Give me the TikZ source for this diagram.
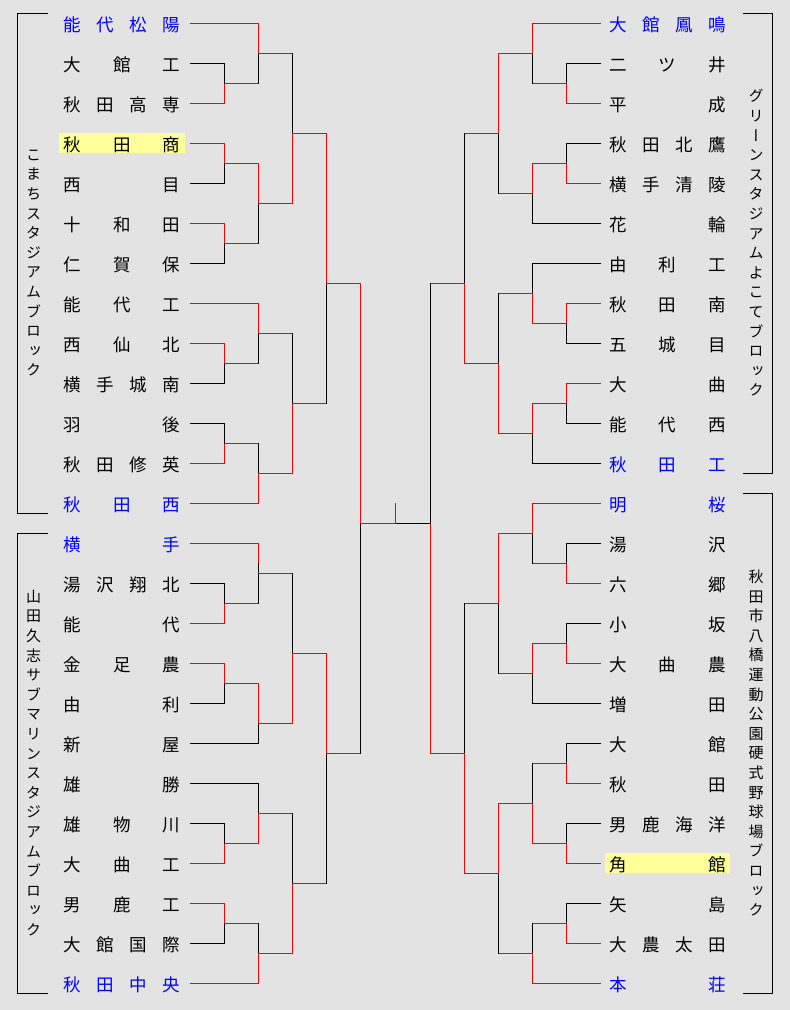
\documentclass[tikz,border=0pt]{standalone}
\usepackage{fontspec}
\usepackage{graphicx}
\newfontfamily\jp{Noto Sans CJK JP}
\newfontfamily\jpv[RawFeature=+vert]{Noto Sans CJK JP}
\definecolor{bg}{HTML}{E3E3E3}
\definecolor{hl}{HTML}{FFFF99}
\definecolor{win}{HTML}{FF0000}
\definecolor{nm}{HTML}{0000FF}
\tikzset{
  W/.style={draw=win, line width=1pt},
  L/.style={draw=black, line width=1pt},
  team/.style={anchor=base west, inner sep=0pt, font=\jp\fontsize{17.5}{20}\selectfont, text=black},
  seed/.style={team, text=nm},
  vlab/.style={align=center, inner sep=0pt, font=\jpv\fontsize{15}{19.6}\selectfont},
  blk/.style={draw=black, line width=1pt},
}
\newcommand\J[1]{\makebox[116.5pt][s]{#1}}
\newcommand\TL[3]{\node[#2] (tL#1) at (63.75,{23+40*#1+8}) {\J{#3}};
  \coordinate (pL#1) at (190,{23+40*#1});}
\newcommand\TR[3]{\node[#2] (tR#1) at (609.25,{23+40*#1+8}) {\J{#3}};
  \coordinate (pR#1) at (600,{23+40*#1});}
\newcommand\edg[4]{\draw[#3] (#1) -- (#1 -| #2); \draw[#4] (#1 -| #2) -- (#2);}
\begin{document}
\begin{tikzpicture}[x=1pt,y=-1pt,line cap=rect]
\useasboundingbox (0,0) rectangle (790,1010);
\fill[bg] (0,0) rectangle (790,1010);
\fill[hl] (59,133) rectangle (185,153);
\fill[hl] (605,853) rectangle (730,873);
\begin{scope}[shift={(0.5,0.5)}]
% block brackets
\draw[blk] (47,13) -- (17,13) -- (17,513) -- (47,513);
\draw[blk] (47,533) -- (17,533) -- (17,993) -- (47,993);
\draw[blk] (743,13) -- (772,13) -- (772,473) -- (743,473);
\draw[blk] (743,493) -- (772,493) -- (772,993) -- (743,993);
\end{scope}
\node[vlab] (vA) at (33.5,263) {こ\\ま\\ち\\ス\\タ\\ジ\\ア\\ム\\ブ\\ロ\\ッ\\ク};
\node[vlab] (vB) at (33.5,763) {山\\田\\久\\志\\サ\\ブ\\マ\\リ\\ン\\ス\\タ\\ジ\\ア\\ム\\ブ\\ロ\\ッ\\ク};
\node[vlab] (vC) at (756,243) {グ\\リ\\ー\\ン\\ス\\タ\\ジ\\ア\\ム\\よ\\こ\\て\\ブ\\ロ\\ッ\\ク};
\node[vlab] (vD) at (756,743) {秋\\田\\市\\八\\橋\\運\\動\\公\\園\\硬\\式\\野\\球\\場\\ブ\\ロ\\ッ\\ク};
% left teams
\TL{0}{seed}{能 代 松 陽}
\TL{1}{team}{大 館 工}
\TL{2}{team}{秋 田 高 専}
\TL{3}{team}{秋 田 商}
\TL{4}{team}{西 目}
\TL{5}{team}{十 和 田}
\TL{6}{team}{仁 賀 保}
\TL{7}{team}{能 代 工}
\TL{8}{team}{西 仙 北}
\TL{9}{team}{横 手 城 南}
\TL{10}{team}{羽 後}
\TL{11}{team}{秋 田 修 英}
\TL{12}{seed}{秋 田 西}
\TL{13}{seed}{横 手}
\TL{14}{team}{湯 沢 翔 北}
\TL{15}{team}{能 代}
\TL{16}{team}{金 足 農}
\TL{17}{team}{由 利}
\TL{18}{team}{新 屋}
\TL{19}{team}{雄 勝}
\TL{20}{team}{雄 物 川}
\TL{21}{team}{大 曲 工}
\TL{22}{team}{男 鹿 工}
\TL{23}{team}{大 館 国 際}
\TL{24}{seed}{秋 田 中 央}
% right teams
\TR{0}{seed}{大 館 鳳 鳴}
\TR{1}{team}{二 ツ 井}
\TR{2}{team}{平 成}
\TR{3}{team}{秋 田 北 鷹}
\TR{4}{team}{横 手 清 陵}
\TR{5}{team}{花 輪}
\TR{6}{team}{由 利 工}
\TR{7}{team}{秋 田 南}
\TR{8}{team}{五 城 目}
\TR{9}{team}{大 曲}
\TR{10}{team}{能 代 西}
\TR{11}{seed}{秋 田 工}
\TR{12}{seed}{明 桜}
\TR{13}{team}{湯 沢}
\TR{14}{team}{六 郷}
\TR{15}{team}{小 坂}
\TR{16}{team}{大 曲 農}
\TR{17}{team}{増 田}
\TR{18}{team}{大 館}
\TR{19}{team}{秋 田}
\TR{20}{team}{男 鹿 海 洋}
\TR{21}{team}{角 館}
\TR{22}{team}{矢 島}
\TR{23}{team}{大 農 太 田}
\TR{24}{seed}{本 荘}
\begin{scope}[shift={(0.5,0.5)}]
% match points
\coordinate (a1) at (224,83);  \coordinate (a2) at (258,53);
\coordinate (a3) at (224,163); \coordinate (a4) at (224,243);
\coordinate (a5) at (258,203); \coordinate (a6) at (292,133);
\coordinate (a7) at (224,363); \coordinate (a8) at (258,333);
\coordinate (a9) at (224,443); \coordinate (a10) at (258,473);
\coordinate (a11) at (292,403); \coordinate (a12) at (326,283);
\coordinate (b1) at (224,603); \coordinate (b2) at (258,573);
\coordinate (b2q) at (258,563);
\coordinate (b3) at (224,683); \coordinate (b4) at (258,723);
\coordinate (b5) at (292,653); \coordinate (b6) at (224,843);
\coordinate (b7) at (258,813); \coordinate (b8) at (224,923);
\coordinate (b9) at (258,953); \coordinate (b10) at (292,883);
\coordinate (b11) at (326,753); \coordinate (LF) at (360,523);
\coordinate (c1) at (566,83);  \coordinate (c2) at (532,53);
\coordinate (c3) at (566,163); \coordinate (c4) at (532,193);
\coordinate (c5) at (498,133); \coordinate (c6) at (566,323);
\coordinate (c7) at (532,293); \coordinate (c8) at (566,403);
\coordinate (c9) at (532,433); \coordinate (c10) at (498,363);
\coordinate (c11) at (464,283);
\coordinate (d1) at (566,563); \coordinate (d2) at (532,533);
\coordinate (d3) at (566,643); \coordinate (d4) at (532,673);
\coordinate (d5) at (498,603); \coordinate (d6) at (566,763);
\coordinate (d7) at (566,843); \coordinate (d8) at (532,803);
\coordinate (d9) at (566,923); \coordinate (d10) at (532,953);
\coordinate (d11) at (498,873); \coordinate (d12) at (464,753);
\coordinate (RF) at (430,523);
\coordinate (F) at (395,523); \coordinate (Ft) at (395,503);
\foreach \i in {0,...,24}{
  \coordinate (qL\i) at (190,{23+40*\i});
  \coordinate (qR\i) at (600,{23+40*\i});}
% left top
\edg{qL1}{a1}{L}{L} \edg{qL2}{a1}{W}{W}
\edg{qL0}{a2}{W}{W} \edg{a1}{a2}{W}{L}
\edg{qL3}{a3}{W}{W} \edg{qL4}{a3}{L}{L}
\edg{qL5}{a4}{W}{W} \edg{qL6}{a4}{L}{L}
\edg{a3}{a5}{W}{W} \edg{a4}{a5}{W}{L}
\edg{a2}{a6}{W}{L} \edg{a5}{a6}{W}{W}
\edg{qL8}{a7}{W}{W} \edg{qL9}{a7}{L}{L}
\edg{qL7}{a8}{W}{W} \edg{a7}{a8}{W}{L}
\edg{qL10}{a9}{L}{L} \edg{qL11}{a9}{W}{W}
\edg{a9}{a10}{W}{L} \edg{qL12}{a10}{W}{W}
\edg{a8}{a11}{W}{L} \edg{a10}{a11}{W}{W}
\edg{a6}{a12}{W}{W} \edg{a11}{a12}{W}{L}
% left bottom
\edg{qL14}{b1}{L}{L} \edg{qL15}{b1}{W}{W}
\draw[W] (qL13) -| (b2q); \draw[L] (b2q) -- (b2);
\edg{b1}{b2}{W}{L}
\edg{qL16}{b3}{W}{W} \edg{qL17}{b3}{L}{L}
\edg{b3}{b4}{W}{W} \edg{qL18}{b4}{L}{L}
\edg{b2}{b5}{W}{L} \edg{b4}{b5}{W}{W}
\edg{qL20}{b6}{L}{L} \edg{qL21}{b6}{W}{W}
\edg{qL19}{b7}{L}{L} \edg{b6}{b7}{W}{W}
\edg{qL22}{b8}{W}{W} \edg{qL23}{b8}{L}{L}
\edg{b8}{b9}{W}{L} \edg{qL24}{b9}{W}{W}
\edg{b7}{b10}{W}{L} \edg{b9}{b10}{W}{W}
\edg{b5}{b11}{W}{W} \edg{b10}{b11}{W}{L}
\edg{a12}{LF}{W}{W} \edg{b11}{LF}{W}{L}
% right top
\edg{qR1}{c1}{L}{L} \edg{qR2}{c1}{W}{W}
\edg{qR0}{c2}{W}{W} \edg{c1}{c2}{W}{L}
\edg{qR3}{c3}{L}{L} \edg{qR4}{c3}{W}{W}
\edg{c3}{c4}{W}{W} \edg{qR5}{c4}{L}{L}
\edg{c2}{c5}{W}{W} \edg{c4}{c5}{W}{L}
\edg{qR7}{c6}{W}{W} \edg{qR8}{c6}{L}{L}
\edg{qR6}{c7}{L}{L} \edg{c6}{c7}{W}{W}
\edg{qR9}{c8}{W}{W} \edg{qR10}{c8}{L}{L}
\edg{c8}{c9}{W}{W} \edg{qR11}{c9}{L}{L}
\edg{c7}{c10}{W}{L} \edg{c9}{c10}{W}{W}
\edg{c5}{c11}{W}{L} \edg{c10}{c11}{W}{W}
% right bottom
\edg{qR13}{d1}{L}{L} \edg{qR14}{d1}{W}{W}
\edg{qR12}{d2}{W}{W} \edg{d1}{d2}{W}{L}
\edg{qR15}{d3}{L}{L} \edg{qR16}{d3}{W}{W}
\edg{d3}{d4}{W}{W} \edg{qR17}{d4}{L}{L}
\edg{d2}{d5}{W}{W} \edg{d4}{d5}{W}{L}
\edg{qR18}{d6}{L}{L} \edg{qR19}{d6}{W}{W}
\edg{qR20}{d7}{L}{L} \edg{qR21}{d7}{W}{W}
\edg{d6}{d8}{W}{L} \edg{d7}{d8}{W}{W}
\edg{qR22}{d9}{L}{L} \edg{qR23}{d9}{W}{W}
\edg{d9}{d10}{W}{L} \edg{qR24}{d10}{W}{W}
\edg{d8}{d11}{W}{W} \edg{d10}{d11}{W}{L}
\edg{d5}{d12}{W}{L} \edg{d11}{d12}{W}{W}
\edg{c11}{RF}{W}{L} \edg{d12}{RF}{W}{W}
% final
\draw[W] (LF) -- (F);
\draw[L] (RF) -- (F);
\draw[W] (F) -- (Ft);
\end{scope}
\end{tikzpicture}
\end{document}
